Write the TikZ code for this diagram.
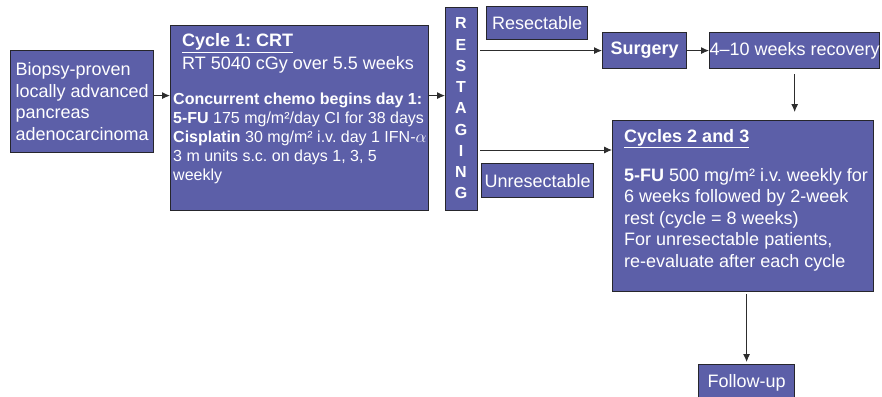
\documentclass[tikz,border=0pt]{standalone}
\usepackage{fontspec}
\setmainfont{Liberation Sans}
\usepackage{tikz}
\usetikzlibrary{arrows.meta}
\usepackage{xcolor}
\definecolor{boxfill}{RGB}{92,95,168}
\definecolor{boxline}{RGB}{38,38,44}
\definecolor{arrline}{RGB}{45,45,45}
\frenchspacing
\newcommand{\fsbig}{\fontsize{18pt}{21.5pt}\selectfont}
\newcommand{\fsmid}{\fontsize{16pt}{19pt}\selectfont}
\tikzstyle{box}=[draw=boxline, fill=boxfill, line width=1.2pt, text=white, inner sep=0pt, anchor=north west, font=\fsbig]
\tikzstyle{txt}=[text=white, inner sep=0pt, anchor=base west]
\tikzstyle{arr}=[draw=arrline, line width=0.9pt, -{Latex[length=8pt,width=7pt]}]

\begin{document}
\begin{tikzpicture}[x=1pt, y=-1pt]
\useasboundingbox (0,0) rectangle (882,396);
\node[box, minimum width=143pt, minimum height=102pt, align=left] (bio) at (10,50) {Biopsy-proven\\locally advanced\\pancreas\\adenocarcinoma};
\node[box, minimum width=258pt, minimum height=185pt] (crt) at (170,25) {};
\node[box, minimum width=32pt, minimum height=203pt] (stage) at (445,7) {};
\node[box, minimum width=101pt, minimum height=33pt] (res) at (486,6) {Resectable};
\node[box, minimum width=112pt, minimum height=34pt] (unres) at (481,163) {Unresectable};
\node[box, minimum width=84pt, minimum height=36pt, font=\fsbig\bfseries] (surg) at (602,32) {Surgery};
\node[box, minimum width=170pt, minimum height=36pt] (rec) at (709,32) {4--10 weeks recovery};
\node[box, minimum width=261pt, minimum height=171pt] (cyc) at (612,120) {};
\node[box, minimum width=96pt, minimum height=36pt] (fol) at (698,364) {Follow-up};

\node[txt, font=\fsbig\bfseries] (crttitle) at (182,47) {\underline{Cycle 1: CRT}};
\node[txt, font=\fsbig] (crtrt) at (182,70) {RT 5040 cGy over 5.5 weeks};
\foreach \t [count=\i] in {{\textbf{Concurrent chemo begins day 1:}}, {\textbf{5-FU} 175 mg/m²/day CI for 38 days}, {\textbf{Cisplatin} 30 mg/m² i.v. day 1 IFN-$\alpha$}, {3 m units s.c. on days 1, 3, 5}, {weekly}}
 \node[txt, font=\fsmid] (crt\i) at (173, 85+19*\i) {\t};

\foreach \c [count=\i] in {R,E,S,T,A,G,I,N,G}
 \node[txt, anchor=base, font=\fsmid\bfseries] (st\i) at (461, 7.5+21.25*\i) {\c};

\node[txt, font=\fsbig\bfseries] (cyctitle) at (624,142) {\underline{Cycles 2 and 3}};
\foreach \t [count=\i] in {{\textbf{5-FU} 500 mg/m² i.v. weekly for}, {6 weeks followed by 2-week}, {rest (cycle = 8 weeks)}, {For unresectable patients,}, {re-evaluate after each cycle}}
 \node[txt, font=\fsbig] (cyc\i) at (624, 159.5+21.5*\i) {\t};

\coordinate (l1) at ([yshift=6pt]bio.east);
\coordinate (l2) at ([yshift=-30pt]cyc.north west);
\draw[arr] (l1) -- (l1 -| crt.west);
\draw[arr] (l1 -| crt.east) -- (l1 -| stage.west);
\draw[arr, shorten <=2pt] (stage.east |- surg.west) -- (surg.west);
\draw[arr, shorten <=2pt] (stage.east |- l2) -- (l2);
\draw[arr] (surg.east) -- (rec.west);
\draw[arr, shorten <=5pt, shorten >=8pt] (rec.south) -- (rec.south |- cyc.north);
\draw[arr, shorten <=2pt, shorten >=2pt] (cyc.south -| fol.north) -- (fol.north);
\end{tikzpicture}
\end{document}
